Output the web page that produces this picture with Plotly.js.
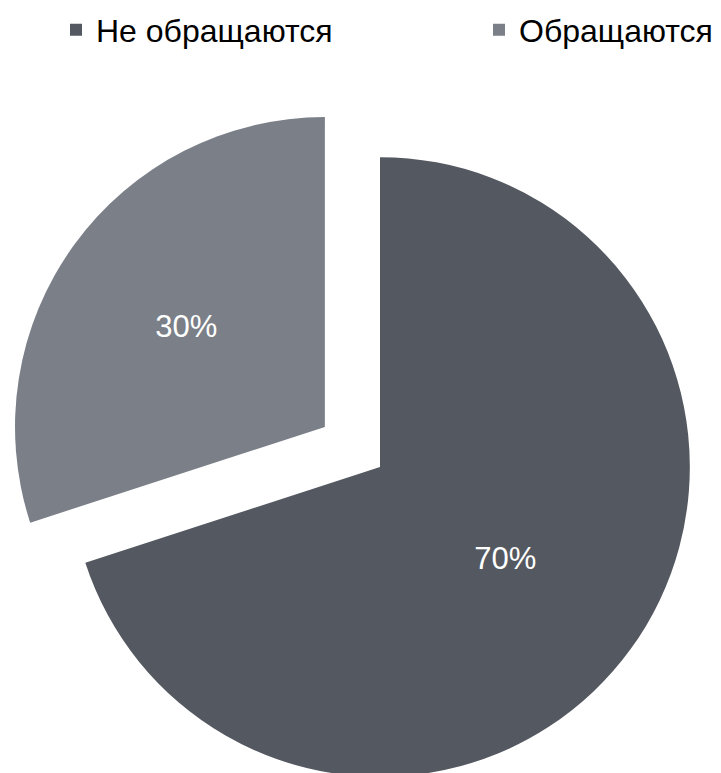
<!DOCTYPE html>
<html>
<head>
<meta charset="utf-8">
<script src="https://cdn.plot.ly/plotly-3.0.1.min.js"></script>
<style>
html, body { margin: 0; padding: 0; overflow: hidden; background: #ffffff; }
#chart { width: 902px; height: 845px; }
</style>
</head>
<body>
<div id="chart"></div>
<script>
const labels = ['Не обращаются', 'Обращаются'];
const values = [70, 30];
const colors = ['#545860', '#7a7f88'];
const pulls = [0, 0.22];

const trace = {
  type: 'pie',
  labels: labels,
  values: values,
  sort: false,
  direction: 'clockwise',
  rotation: 0,
  pull: pulls,
  domain: { x: [0, 756 / 900], y: [0, 1] },
  marker: { colors: colors, line: { width: 0 } },
  textinfo: 'percent',
  texttemplate: '%{percent:.0%}',
  textposition: 'inside',
  insidetextorientation: 'horizontal',
  textfont: { family: 'Liberation Sans, Arial, sans-serif', size: 31, color: '#ffffff' },
  hoverinfo: 'none'
};

const layout = {
  width: 902,
  height: 845,
  margin: { l: 2, r: 0, t: 89, b: 0, pad: 0 },
  paper_bgcolor: '#ffffff',
  plot_bgcolor: '#ffffff',
  showlegend: true,
  legend: {
    orientation: 'h',
    x: 0.0655,
    xanchor: 'left',
    y: 1.078,
    yanchor: 'middle',
    entrywidth: 378,
    font: { family: 'Liberation Sans, Arial, sans-serif', size: 32, color: '#000000' },
    itemclick: false,
    itemdoubleclick: false
  }
};

Plotly.newPlot('chart', [trace], layout, { staticPlot: true, displayModeBar: false });
</script>
</body>
</html>
